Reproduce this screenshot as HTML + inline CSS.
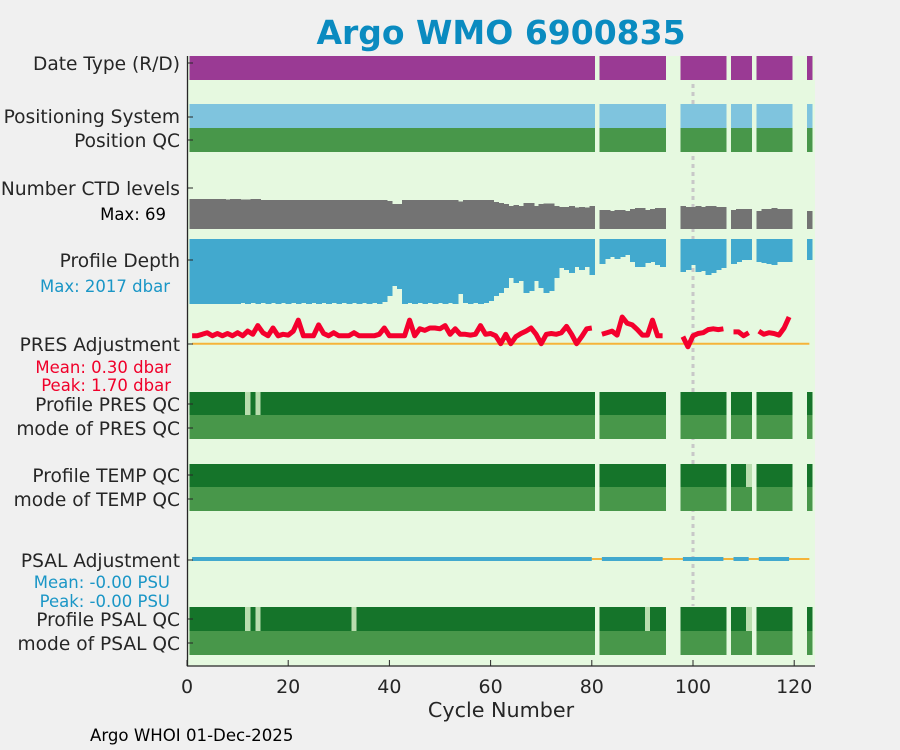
<!DOCTYPE html>
<html><head><meta charset="utf-8"><style>
html,body{margin:0;padding:0;background:#f0f0f0;}
svg{display:block;font-family:"DejaVu Sans","Liberation Sans",sans-serif;}
</style></head><body>
<svg id="chart" width="900" height="750" viewBox="0 0 900 750" xmlns="http://www.w3.org/2000/svg">
<rect width="900" height="750" fill="#f0f0f0"/>
<text x="501" y="44" text-anchor="middle" font-size="33" font-weight="bold" fill="#0a8bc0">Argo WMO 6900835</text>
<rect x="187.5" y="56" width="627.5" height="610" fill="#e6f9e0"/>
<g id="marks"></g>
<g id="labels" font-size="18.6" fill="#262626" text-anchor="end">
<text x="180" y="70">Date Type (R/D)</text>
<text x="180" y="123">Positioning System</text>
<text x="180" y="147">Position QC</text>
<text x="180" y="195">Number CTD levels</text>
<text x="166" y="220" font-size="16.5" fill="#000">Max: 69</text>
<text x="180" y="267">Profile Depth</text>
<text x="170" y="292" font-size="16.5" fill="#1a96c6">Max: 2017 dbar</text>
<text x="180" y="351">PRES Adjustment</text>
<text x="171" y="373" font-size="16.5" fill="#f0002a">Mean: 0.30 dbar</text>
<text x="171" y="391" font-size="16.5" fill="#f0002a">Peak: 1.70 dbar</text>
<text x="180" y="411">Profile PRES QC</text>
<text x="180" y="435">mode of PRES QC</text>
<text x="180" y="482">Profile TEMP QC</text>
<text x="180" y="506">mode of TEMP QC</text>
<text x="180" y="567">PSAL Adjustment</text>
<text x="170" y="588" font-size="16.5" fill="#1a96c6">Mean: -0.00 PSU</text>
<text x="170" y="607" font-size="16.5" fill="#1a96c6">Peak: -0.00 PSU</text>
<text x="180" y="626">Profile PSAL QC</text>
<text x="180" y="650">mode of PSAL QC</text>
</g>
<text x="501" y="717" text-anchor="middle" font-size="20.7" fill="#262626">Cycle Number</text>
<text x="90" y="741" font-size="16.6" fill="#000">Argo WHOI 01-Dec-2025</text>
</svg>
<script>
// ---- data ----
const cycles = [];
for (let c = 1; c <= 123; c++) cycles.push(c);
const missingCycles = [81, 95, 96, 97, 107, 112, 120, 121, 122];
const ctdLevels = [69,69,69,69,69,69,69,68,69,69,68,68,69,69,67,67,67,67,67,67,67,67,67,67,67,67,67,67,67,67,67,67,67,67,67,67,67,67,67,64,57,57,67,67,67,67,67,67,67,67,67,67,67,63,67,67,67,67,67,67,62,60,57,53,55,53,60,60,53,57,59,59,53,51,51,53,49,51,49,53,null,44,44,41,44,44,41,46,48,48,44,46,48,48,null,null,null,53,51,51,53,51,53,53,51,51,null,44,46,46,46,null,41,46,46,48,46,46,46,null,null,null,41];
const profileDepth = [2017,2017,2017,2017,2017,2017,2017,2017,2017,2017,1985,2017,1985,2017,1985,2017,1985,2017,1985,2017,1985,2017,1985,2017,1985,2017,1985,2017,1985,2017,1985,2017,1985,2017,1985,2017,1985,2017,1955,1769,1458,1551,2017,1985,2017,1985,2017,1985,2017,1985,2017,1985,2017,1707,1985,2017,1985,2017,1985,1924,1769,1675,1520,1210,1365,1303,1675,1613,1303,1520,1675,1613,1210,900,962,1055,869,962,869,1117,null,776,621,559,621,559,496,714,869,869,745,714,807,869,null,null,null,1024,962,807,1024,993,1117,1055,962,900,null,776,714,652,652,null,714,745,776,807,714,714,714,null,null,null,652];
const presAdjust = [0.5,0.5,0.6,0.7,0.5,0.65,0.5,0.65,0.5,0.7,0.5,0.8,0.6,1.15,0.7,0.5,1.0,0.5,0.6,0.55,0.8,1.5,0.5,0.5,0.5,1.2,0.65,0.5,0.7,0.5,0.5,0.5,0.7,0.5,0.5,0.5,0.5,0.6,1.0,0.5,0.5,0.5,0.5,1.5,0.5,0.95,0.85,1.0,1.0,0.95,1.15,0.6,0.95,0.6,0.6,0.55,0.6,1.15,0.6,0.65,0.5,0.0,0.6,0.0,0.45,0.65,0.8,1.0,0.6,0.0,0.6,0.65,0.6,0.7,1.1,0.6,0.0,0.45,0.95,1.0,null,0.6,0.7,0.8,0.55,1.7,1.3,1.2,0.9,0.55,0.55,1.5,0.5,0.5,null,null,null,0.45,-0.2,0.5,0.65,0.7,0.9,0.95,0.9,0.95,null,0.75,0.75,0.5,0.7,null,0.8,0.6,0.7,0.65,0.55,1.0,1.7,null,null,null,null];
const psalAdjust = cycles.map(c => (missingCycles.includes(c) || c === 123) ? null : 0);
const presQcBad = [12, 14];
const tempQcBad = [111];
const psalQcBad = [12, 14, 33, 91, 111];
const xTicks = [0, 20, 40, 60, 80, 100, 120];
const yTickLabels = [63,117,140,188,260,344,404,428,475,499,560,619,643];
const refCycle = 100;

// ---- scales ----
const X0 = 187, XS = 5.06;
const xs = c => X0 + XS * c;
const ctdY = v => 229 - v * 30 / 69;
const depthY = v => 239 + v * 65 / 2017;
const presY = v => 343.7 - v * 15.7;
const psalY = v => 559 - v * 50;

const NS = 'http://www.w3.org/2000/svg';
const g = document.getElementById('marks');
const svg = document.getElementById('chart');
function mk(tag, attrs, parent) {
  const e = document.createElementNS(NS, tag);
  for (const k in attrs) e.setAttribute(k, attrs[k]);
  (parent || g).appendChild(e);
  return e;
}

// reference dotted line
const ref = mk('line', {x1: xs(refCycle), x2: xs(refCycle), y1: 60, y2: 606, stroke: '#c8c8c8', 'stroke-width': 3, 'stroke-dasharray': '4 4'});



function bandRow(name, y0, h, color, badList) {
  cycles.forEach(c => {
    if (missingCycles.includes(c)) return;
    const bad = badList && badList.includes(c);
    const r = mk('rect', {x: xs(c - 0.5), y: y0, width: XS + 0.8, height: h, fill: bad ? '#b9ddae' : color, 'shape-rendering': 'crispEdges'});
    
    
  });
}
bandRow('date-type', 56, 24, '#9a3a94');
bandRow('positioning-system', 104, 24, '#7fc4de');
bandRow('position-qc', 128, 24, '#48974a');

cycles.forEach((c, i) => {
  const v = ctdLevels[i];
  if (v == null) return;
  const r = mk('rect', {x: xs(c - 0.5), y: ctdY(v), width: XS + 0.8, height: 229 - ctdY(v), fill: '#737373', 'shape-rendering': 'crispEdges'});
  
  
});
cycles.forEach((c, i) => {
  const v = profileDepth[i];
  if (v == null) return;
  const r = mk('rect', {x: xs(c - 0.5), y: 239, width: XS + 0.8, height: depthY(v) - 239, fill: '#42a9ce', 'shape-rendering': 'crispEdges'});
  
  
});

// PRES adjustment
const o1 = mk('line', {x1: xs(1), x2: xs(123), y1: presY(0), y2: presY(0), stroke: '#f5b43a', 'stroke-width': 2});


function lineSegments(name, vals, yfn, color, w) {
  let seg = [];
  const flush = () => {
    if (seg.length > 1) {
      const p = mk('polyline', {points: seg.join(' '), fill: 'none', stroke: color, 'stroke-width': w, 'stroke-linejoin': 'round', 'stroke-linecap': 'butt'});
      
      
    }
    seg = [];
  };
  cycles.forEach((c, i) => {
    const v = vals[i];
    if (v == null) { flush(); return; }
    seg.push(xs(c).toFixed(1) + ',' + yfn(v).toFixed(1));
  });
  flush();
}
lineSegments('pres-adjustment-line', presAdjust, presY, '#f4002d', 5);

bandRow('profile-pres-qc', 392, 23, '#15742a', presQcBad);
bandRow('mode-pres-qc', 415, 24, '#48974a');
bandRow('profile-temp-qc', 464, 23, '#15742a', tempQcBad);
bandRow('mode-temp-qc', 487, 24, '#48974a');

const o2 = mk('line', {x1: xs(1), x2: xs(123), y1: psalY(0), y2: psalY(0), stroke: '#f5b43a', 'stroke-width': 2});


lineSegments('psal-adjustment-line', psalAdjust, psalY, '#42a9ce', 4);

bandRow('profile-psal-qc', 607, 24, '#15742a', psalQcBad);
bandRow('mode-psal-qc', 631, 24, '#48974a');

// axes
const ax = mk('g', {}, svg);


mk('line', {x1: 187.5, x2: 187.5, y1: 56, y2: 666.5, stroke: '#262626', 'stroke-width': 1.3}, ax);
mk('line', {x1: 187, x2: 815, y1: 666, y2: 666, stroke: '#262626', 'stroke-width': 1.3}, ax);
yTickLabels.forEach(y => {
  const t = mk('line', {x1: 187.5, x2: 193, y1: y, y2: y, stroke: '#262626', 'stroke-width': 1}, ax);
  
  
});
xTicks.forEach(v => {
  const t = mk('line', {x1: xs(v), x2: xs(v), y1: 660, y2: 666, stroke: '#262626', 'stroke-width': 1}, ax);
  
  
  const l = mk('text', {x: xs(v), y: 693, 'text-anchor': 'middle', 'font-size': 19, fill: '#262626'}, ax);
  l.textContent = String(v);
  
  
});
</script>
</body></html>
